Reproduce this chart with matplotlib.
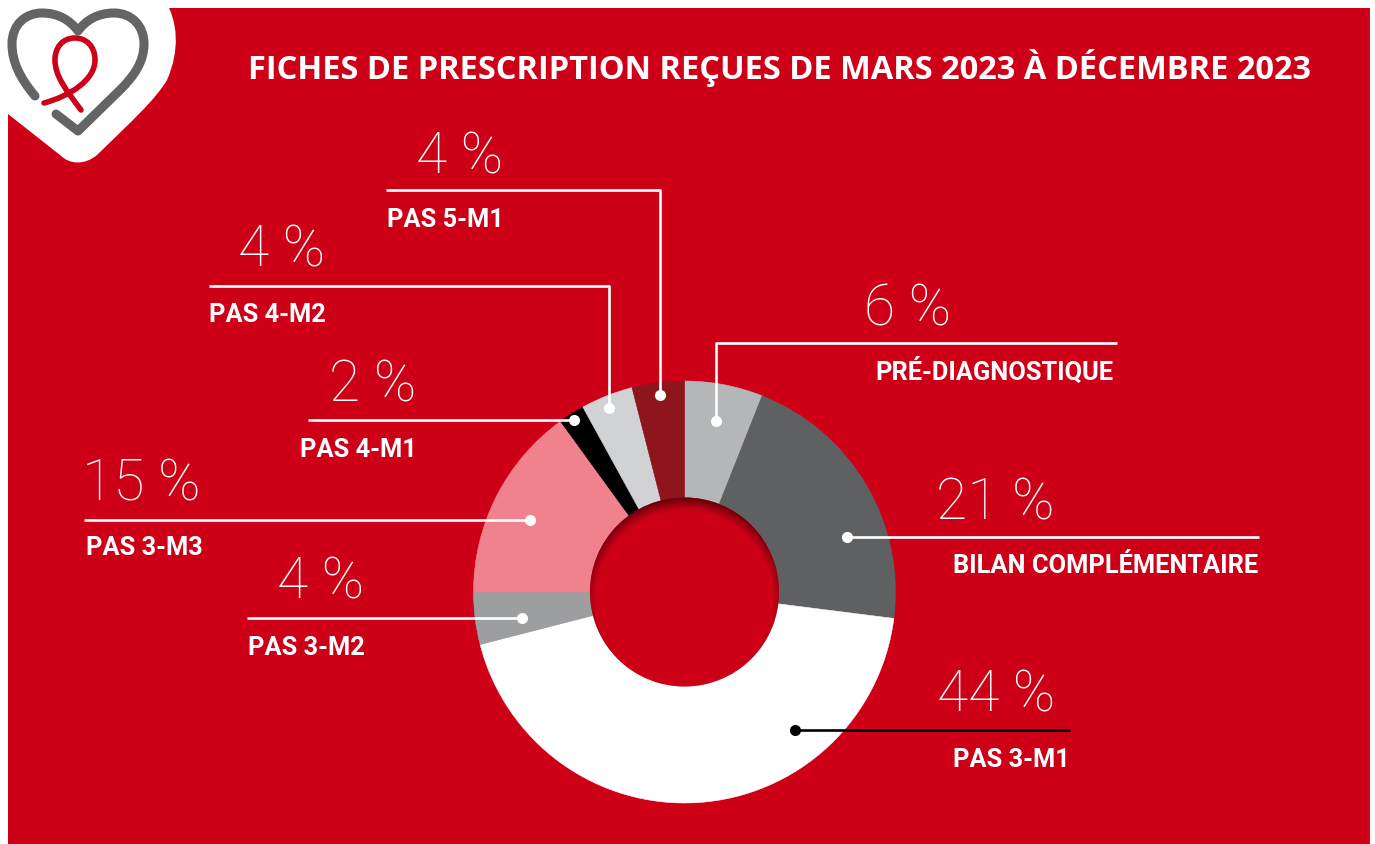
# -*- coding: utf-8 -*-
"""Fiches de prescription: donut en coordonnees pixel (axes pleine figure)."""
import numpy as np
import matplotlib
matplotlib.use('Agg')
import matplotlib.pyplot as plt
from matplotlib.patches import Circle, PathPatch, Rectangle
from matplotlib.path import Path
from matplotlib.colors import to_rgb

RED = '#cd0018'
GREY = '#636466'

title = 'FICHES DE PRESCRIPTION REÇUES DE MARS 2023 À DÉCEMBRE 2023'
categories = ['PRÉ-DIAGNOSTIQUE', 'BILAN COMPLÉMENTAIRE', 'PAS 3-M1', 'PAS 3-M2',
              'PAS 3-M3', 'PAS 4-M1', 'PAS 4-M2', 'PAS 5-M1']
values = [6, 21, 44, 4, 15, 2, 4, 4]
colors = ['#b5b6b8', '#5f6062', '#ffffff', '#9d9ea0', '#ef828c', '#000000', '#d0d2d4', '#8e151b']

CX, CY, R_OUT, R_IN = 684.5, 592.0, 211.0, 94.5

# leader: points du trait (px), le dernier porte le point
leaders = [[(1117, 343), (716, 343), (716, 421)],
           [(1259, 537), (847, 537)],
           [(1070, 730), (795, 730)],
           [(247, 618), (522, 618)],
           [(84, 520), (530, 520)],
           [(308, 419.5), (574, 419.5)],
           [(209, 286), (609, 286), (609, 408)],
           [(386, 190), (660, 190), (660, 395)]]
pct_pos = [(951, 325), (1055, 519), (1055, 711), (364, 598), (201, 500), (416, 401), (325, 266), (503, 172)]
lab_pos = [(875, 379), (953, 572), (953, 766), (248, 654), (86, 554), (300, 456), (209, 321), (387, 226)]

fig = plt.figure(figsize=(13.75, 8.45), dpi=100, facecolor='white')
ax = fig.add_axes([0, 0, 1, 1])
ax.add_patch(Rectangle((8, 8), 1362, 840, fc=RED, ec='none', zorder=0))

# logo
blob = Path([(165, 0), (178, 22), (180, 50), (167, 80), (155, 100), (133, 120), (97, 155),
             (85, 165), (70, 165), (60, 155), (8, 114), (0, 114), (0, 0), (165, 0)],
            [Path.MOVETO, Path.CURVE4, Path.CURVE4, Path.CURVE4, Path.CURVE4, Path.CURVE4, Path.CURVE4,
             Path.CURVE4, Path.CURVE4, Path.CURVE4, Path.LINETO, Path.LINETO, Path.LINETO, Path.CLOSEPOLY])
ax.add_patch(PathPatch(blob, fc='white', ec='none', zorder=1))
heart = Path([(35, 96), (20, 78), (12, 62), (12, 44), (12, 24), (26, 13), (42, 13), (58, 13), (70, 20), (78, 31),
              (86, 20), (98, 13), (114, 13), (132, 13), (144, 26), (144, 44), (144, 62), (134, 76), (120, 90),
              (78, 131), (56, 114)],
             [Path.MOVETO] + [Path.CURVE4] * 18 + [Path.LINETO] * 2)
ax.add_patch(PathPatch(heart, fc='none', ec=GREY, lw=6.5, capstyle='round', joinstyle='round', zorder=2))
ribbon = Path([(44, 103), (70, 96), (95, 80), (95, 60), (95, 46), (86, 38), (75, 38), (62, 38), (55, 48), (55, 60),
               (55, 76), (66, 90), (81, 110)],
              [Path.MOVETO] + [Path.CURVE4] * 12)
ax.add_patch(PathPatch(ribbon, fc='none', ec=RED, lw=4, capstyle='round', zorder=3))

# donut (y inverse: counterclock=True tourne dans le sens horaire a l'ecran)
wedges, _ = ax.pie(values, colors=colors, startangle=-90, counterclock=True, radius=R_OUT, center=(CX, CY),
                   wedgeprops=dict(width=R_OUT - R_IN, linewidth=0.4))
for w in wedges:
    w.set_edgecolor(w.get_facecolor())

# ombre interne du trou: cercle rouge + degrade transparent decale vers le bas
ax.add_patch(Circle((CX, CY), R_IN, fc=RED, ec='none', zorder=4))
gx, gy = np.meshgrid(np.linspace(CX - R_IN, CX + R_IN, 400), np.linspace(CY - R_IN, CY + R_IN, 400))
OFF = 7.5
t = np.clip((np.hypot(gx - CX, gy - (CY + OFF)) - (R_IN - OFF)) / (2 * OFF), 0, 1)
rgba = np.zeros(t.shape + (4,))
rgba[..., :3] = to_rgb('#5c0008')
rgba[..., 3] = t ** 1.4
im = ax.imshow(rgba, extent=(CX - R_IN, CX + R_IN, CY + R_IN, CY - R_IN), origin='upper', aspect='auto', zorder=4.5)
im.set_clip_path(Circle((CX, CY), R_IN, transform=ax.transData))

ax.set_xlim(0, 1375)
ax.set_ylim(844, -1)
ax.set_aspect('auto')
ax.axis('off')

ax.text(248, 78, title, color='white', fontsize=23.5, family='Open Sans', fontweight='bold', va='baseline', ha='left')

for i, cat in enumerate(categories):
    xs, ys = zip(*leaders[i])
    col = 'black' if colors[i] == '#ffffff' else 'white'
    ax.plot(xs, ys, color=col, lw=1.9, solid_capstyle='butt', zorder=6)
    ax.plot(xs[-1], ys[-1], 'o', color=col, ms=8, mew=0, zorder=7)
    ax.text(pct_pos[i][0], pct_pos[i][1], f'{values[i]} %', color='white', fontsize=41, family='Roboto',
            fontweight=100, ha='right', va='baseline', zorder=8)
    ax.text(lab_pos[i][0], lab_pos[i][1], cat, color='white', fontsize=18.3, family='Roboto',
            fontweight='bold', ha='left', va='baseline', zorder=8)

fig.savefig('out.png', dpi=100, facecolor='white')
